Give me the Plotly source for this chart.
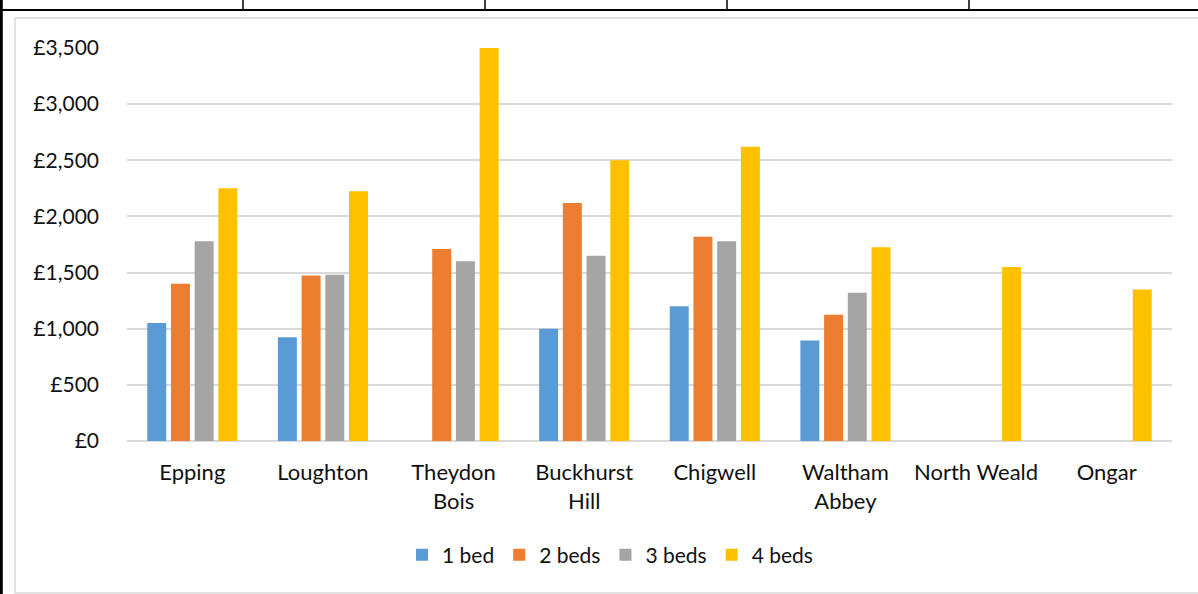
import plotly.graph_objects as go

# Monthly rent by town and property size
towns = ["Epping", "Loughton", "Theydon<br>Bois", "Buckhurst<br>Hill", "Chigwell",
         "Waltham<br>Abbey", "North Weald", "Ongar"]
bed1 = [1050, 925, None, 1000, 1200, 895, None, None]
bed2 = [1400, 1475, 1710, 2120, 1820, 1125, None, None]
bed3 = [1780, 1480, 1600, 1650, 1780, 1320, None, None]
bed4 = [2250, 2225, 3500, 2500, 2620, 1725, 1550, 1350]

series = [("1 bed", bed1, "#5B9BD5"), ("2 beds", bed2, "#ED7D31"),
          ("3 beds", bed3, "#A5A5A5"), ("4 beds", bed4, "#FFC000")]

W, H = 1198, 594
L, R, T, B = 127, 1172, 48, 441  # plot area in pixels

fig = go.Figure()
for name, vals, col in series:
    fig.add_trace(go.Bar(x=towns, y=vals, name=name, marker_color=col,
                         marker_line_width=0))

def px(x):
    return (x - L) / (R - L)

def py(y):
    return (B - y) / (B - T)

shapes = []
# surrounding table rules
shapes.append(dict(type="line", xref="paper", yref="paper", x0=px(0), x1=px(W),
                   y0=py(10), y1=py(10), line=dict(color="#000", width=2)))
shapes.append(dict(type="line", xref="paper", yref="paper", x0=px(1.3), x1=px(1.3),
                   y0=py(0), y1=py(H), line=dict(color="#000", width=3)))
for xv in [243, 485, 727, 969]:
    shapes.append(dict(type="line", xref="paper", yref="paper", x0=px(xv), x1=px(xv),
                       y0=py(0), y1=py(10), line=dict(color="#000", width=1.5)))
# chart frame
shapes.append(dict(type="rect", xref="paper", yref="paper", x0=px(15), x1=px(W + 5),
                   y0=py(18), y1=py(593), line=dict(color="#D9D9D9", width=1.5),
                   layer="below"))

fig.update_layout(
    width=W, height=H,
    margin=dict(l=L, r=W - R, t=T, b=H - B),
    paper_bgcolor="white", plot_bgcolor="white",
    barmode="group", bargap=0.274, bargroupgap=0.2,
    font=dict(family="Lato, Open Sans, sans-serif", size=21, color="#111"),
    shapes=shapes,
    showlegend=True,
    legend=dict(orientation="h", x=px(610), xanchor="center", y=py(555), yanchor="middle",
                font=dict(size=21), traceorder="normal", itemwidth=30),
)
fig.update_xaxes(showgrid=False, showline=False, ticks="", tickfont=dict(size=22),
                 ticklabelstandoff=16)
fig.update_yaxes(range=[0, 3500], dtick=500, tickprefix="£", tickformat=",d",
                 showgrid=True, gridcolor="#D9D9D9", gridwidth=1.5,
                 zeroline=True, zerolinecolor="#D9D9D9", zerolinewidth=1.5,
                 showline=False, ticks="", ticklabelstandoff=27, tickfont=dict(size=21))

fig.write_html("out.html")
